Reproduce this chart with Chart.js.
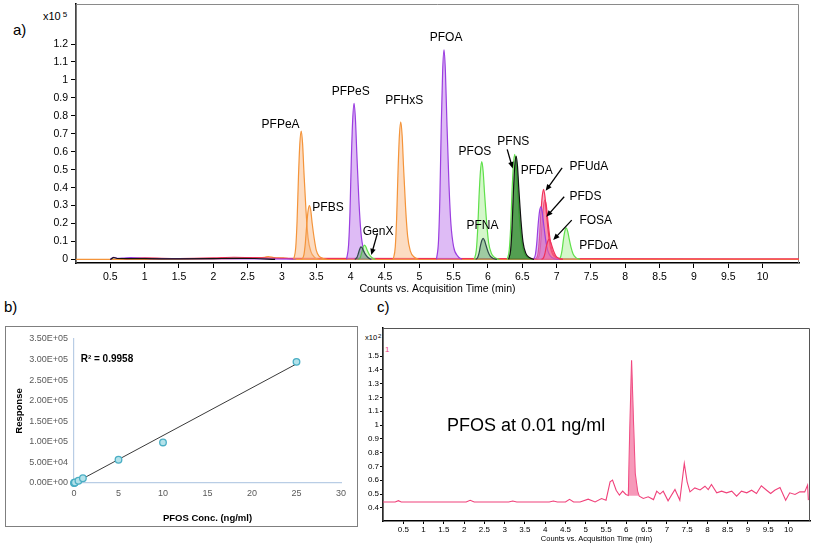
<!DOCTYPE html>
<html lang="en">
<head>
<meta charset="UTF-8" />
<title>PFAS chromatograms</title>
<script src="https://cdn.jsdelivr.net/npm/chart.js"></script>
<style>
    body {
        margin: 0;
        width: 815px;
        height: 548px;
        position: relative;
        overflow: hidden;
        background: #fff;
        font-family: "Liberation Sans", Arial, sans-serif;
        color: #000;
    }
    .abs { position: absolute; }
    .tag { font-size: 15px; }
    #boxB {
        left: 5px;
        top: 326px;
        width: 351px;
        height: 199px;
        border: 1px solid #7f7f7f;
    }
</style>
</head>
<body>
<div class="abs tag" style="left:13px;top:21px">a)</div>
<div class="abs tag" style="left:4px;top:298px">b)</div>
<div class="abs tag" style="left:377px;top:298px">c)</div>
<div class="abs" style="left:43px;top:10px;font-size:11px">x10<span style="font-size:8px;vertical-align:top;margin-left:2px">5</span></div>
<div class="abs" style="left:365px;top:333px;font-size:7.5px;font-family:'Liberation Sans Narrow','Liberation Sans',Arial">x10<span style="font-size:6px;vertical-align:top;margin-left:1px">2</span></div>
<div class="abs" style="left:385px;top:345px;font-size:8px;color:#f0417a">1</div>

<canvas id="chartA" class="abs" style="left:0;top:0" width="815" height="300"></canvas>
<div id="boxB" class="abs"></div>
<canvas id="chartB" class="abs" style="left:6px;top:327px" width="350" height="198"></canvas>
<canvas id="chartC" class="abs" style="left:355px;top:318px" width="460" height="230"></canvas>

<script>
// ---- panel a: overlaid chromatogram (x10^5 counts vs min) ----
const aTimeTicks = [0.5, 1, 1.5, 2, 2.5, 3, 3.5, 4, 4.5, 5, 5.5, 6, 6.5, 7, 7.5, 8, 8.5, 9, 9.5, 10];
const aCountTicks = [0, 0.1, 0.2, 0.3, 0.4, 0.5, 0.6, 0.7, 0.8, 0.9, 1, 1.1, 1.2];

const baseOrangeT = [0, 2.4, 2.6, 2.75, 2.8, 2.88, 2.95, 3.02, 3.1, 3.16, 10.53];
const baseOrangeY = [0, 0.006, 0.01, 0.012, 0.016, 0.01, 0.008, 0.009, 0.004, 0, 0];
const basePinkT = [0.7, 1.0, 1.5, 2.0, 2.3, 2.6, 3.0, 10.53];
const basePinkY = [0.004, 0.008, 0.005, 0.008, 0.012, 0.01, 0.006, 0.003];
const basePurpleT = [0.5, 0.55, 0.6, 0.7, 0.8, 1.0, 1.2, 3.2];
const basePurpleY = [0, 0.012, 0.006, 0.008, 0.01, 0.006, 0.004, 0.002];
const baseBlackT = [0.5, 0.55, 0.6, 1.0, 1.5, 2.0, 2.3, 2.6, 2.9];
const baseBlackY = [0, 0.01, 0.005, 0.004, 0.003, 0.004, 0.006, 0.005, 0];

const pfpeaT = [3.17, 3.20, 3.22, 3.24, 3.26, 3.28, 3.30, 3.32, 3.35, 3.38, 3.42, 3.48, 3.54];
const pfpeaY = [0, 0.065, 0.215, 0.46, 0.645, 0.715, 0.645, 0.485, 0.27, 0.12, 0.045, 0.01, 0];
const pfbsT = [3.29, 3.32, 3.34, 3.36, 3.38, 3.40, 3.42, 3.44, 3.47, 3.50, 3.54, 3.60, 3.66];
const pfbsY = [0, 0.027, 0.09, 0.19, 0.27, 0.30, 0.27, 0.2, 0.115, 0.05, 0.018, 0.005, 0];
const pfpesT = [3.94, 3.97, 3.99, 4.01, 4.03, 4.05, 4.07, 4.09, 4.12, 4.15, 4.19, 4.25, 4.31];
const pfpesY = [0, 0.08, 0.26, 0.56, 0.78, 0.87, 0.78, 0.59, 0.33, 0.15, 0.05, 0.013, 0];
const genxAT = [4.06, 4.09, 4.11, 4.13, 4.15, 4.17, 4.19, 4.22, 4.26, 4.30];
const genxAY = [0, 0.01, 0.03, 0.055, 0.07, 0.063, 0.045, 0.025, 0.008, 0];
const genxBT = [4.11, 4.14, 4.16, 4.18, 4.20, 4.22, 4.24, 4.27, 4.31, 4.36];
const genxBY = [0, 0.01, 0.035, 0.065, 0.08, 0.072, 0.052, 0.028, 0.01, 0];
const pfhxsT = [4.62, 4.65, 4.67, 4.69, 4.71, 4.73, 4.75, 4.77, 4.80, 4.83, 4.87, 4.93, 4.99];
const pfhxsY = [0, 0.07, 0.23, 0.49, 0.69, 0.767, 0.69, 0.52, 0.29, 0.13, 0.046, 0.012, 0];
const pfoaT = [5.25, 5.28, 5.30, 5.32, 5.34, 5.36, 5.38, 5.40, 5.43, 5.46, 5.50, 5.56, 5.62];
const pfoaY = [0, 0.105, 0.35, 0.75, 1.05, 1.167, 1.05, 0.79, 0.44, 0.2, 0.07, 0.018, 0];
const pfosT = [5.80, 5.83, 5.85, 5.87, 5.89, 5.91, 5.93, 5.95, 5.98, 6.01, 6.05, 6.11, 6.17];
const pfosY = [0, 0.05, 0.165, 0.35, 0.49, 0.545, 0.49, 0.37, 0.21, 0.093, 0.033, 0.008, 0];
const pfnaT = [5.82, 5.85, 5.87, 5.89, 5.91, 5.93, 5.95, 5.97, 6.00, 6.03, 6.07, 6.13];
const pfnaY = [0, 0.011, 0.035, 0.075, 0.105, 0.117, 0.105, 0.08, 0.044, 0.02, 0.007, 0];
const pfnsT = [6.28, 6.31, 6.33, 6.35, 6.37, 6.39, 6.41, 6.43, 6.46, 6.49, 6.53, 6.59, 6.65];
const pfnsY = [0, 0.053, 0.175, 0.375, 0.525, 0.585, 0.525, 0.4, 0.22, 0.1, 0.035, 0.009, 0];
const pfdaT = [6.30, 6.33, 6.35, 6.37, 6.39, 6.41, 6.43, 6.45, 6.48, 6.51, 6.55, 6.61, 6.67];
const pfdaY = [0, 0.052, 0.173, 0.37, 0.52, 0.576, 0.52, 0.39, 0.22, 0.098, 0.035, 0.009, 0];
const pfdsT = [6.66, 6.69, 6.71, 6.73, 6.75, 6.77, 6.79, 6.81, 6.84, 6.87, 6.91, 6.97, 7.03];
const pfdsY = [0, 0.026, 0.088, 0.19, 0.265, 0.293, 0.265, 0.2, 0.11, 0.05, 0.018, 0.004, 0];
const pfudaT = [6.70, 6.73, 6.75, 6.77, 6.79, 6.81, 6.83, 6.85, 6.88, 6.91, 6.95, 7.01, 7.07];
const pfudaY = [0, 0.035, 0.117, 0.25, 0.35, 0.39, 0.35, 0.265, 0.148, 0.066, 0.023, 0.006, 0];
const redBT = [6.72, 6.75, 6.77, 6.79, 6.81, 6.83, 6.85, 6.87, 6.90, 6.93, 6.97, 7.03, 7.09];
const redBY = [0, 0.03, 0.1, 0.21, 0.3, 0.33, 0.3, 0.225, 0.125, 0.056, 0.02, 0.005, 0];
const fosaT = [6.78, 6.81, 6.83, 6.85, 6.87, 6.89, 6.91, 6.93, 6.96, 6.99, 7.03, 7.09];
const fosaY = [0, 0.01, 0.034, 0.072, 0.1, 0.113, 0.1, 0.077, 0.043, 0.019, 0.007, 0];
const pfdoaT = [7.03, 7.06, 7.08, 7.10, 7.12, 7.14, 7.16, 7.18, 7.21, 7.24, 7.28, 7.34];
const pfdoaY = [0, 0.016, 0.053, 0.113, 0.158, 0.176, 0.158, 0.12, 0.067, 0.03, 0.01, 0];

// peak names, anchored in data units (min, x10^5)
const peakLabels = [
    { text: "PFPeA", t: 2.98, v: 0.75 },
    { text: "PFBS", t: 3.67, v: 0.289 },
    { text: "PFPeS", t: 4.0, v: 0.934 },
    { text: "GenX", t: 4.40, v: 0.156 },
    { text: "PFHxS", t: 4.78, v: 0.883 },
    { text: "PFOA", t: 5.39, v: 1.235 },
    { text: "PFOS", t: 5.81, v: 0.60 },
    { text: "PFNS", t: 6.37, v: 0.656 },
    { text: "PFDA", t: 6.71, v: 0.492 },
    { text: "PFUdA", t: 7.47, v: 0.514 },
    { text: "PFDS", t: 7.42, v: 0.352 },
    { text: "FOSA", t: 7.57, v: 0.216 },
    { text: "PFNA", t: 5.92, v: 0.188 },
    { text: "PFDoA", t: 7.61, v: 0.078 },
];
const peakArrows = [
    [4.39, 0.145, 4.30, 0.024],
    [6.28, 0.613, 6.36, 0.507],
    [7.08, 0.51, 6.84, 0.382],
    [7.11, 0.349, 6.85, 0.237],
    [7.22, 0.219, 6.95, 0.108],
];

// ---- panel b: calibration ----
const bConc = [0, 0.05, 0.1, 0.5, 1, 5, 10, 25];
const bResp = [0, 500, 1200, 5500, 11500, 56500, 98500, 294500];
const trendConc = [0, 25];
const trendResp = [-800, 289500];

// ---- panel c: PFOS at 0.01 ng/ml (x10^2 counts vs min) ----
const cTimeTicks = [0.5, 1, 1.5, 2, 2.5, 3, 3.5, 4, 4.5, 5, 5.5, 6, 6.5, 7, 7.5, 8, 8.5, 9, 9.5, 10];
const cCountTicks = [0.4, 0.5, 0.6, 0.7, 0.8, 0.9, 1, 1.1, 1.2, 1.3, 1.4, 1.5];
const cT = [0, 0.3, 0.38, 0.45, 0.6, 1.0, 1.5, 2.05, 2.15, 2.25, 2.5, 3.1, 3.2, 3.3, 4.1, 4.2, 4.3, 4.5, 4.6, 4.7,
    4.86, 5.06, 5.23, 5.39, 5.50, 5.60, 5.66, 5.75, 5.83, 5.91, 5.99, 6.05, 6.08, 6.13, 6.18, 6.22, 6.28, 6.32, 6.42, 6.54,
    6.67, 6.75, 6.83, 6.91, 7.03, 7.20, 7.32, 7.43, 7.50, 7.57, 7.69, 7.82, 7.94, 8.02, 8.10, 8.23, 8.35, 8.47, 8.60, 8.72,
    8.84, 8.97, 9.09, 9.21, 9.33, 9.46, 9.56, 9.66, 9.79, 9.93, 10.03, 10.16, 10.28, 10.40, 10.47, 10.49];
const cV = [0.443, 0.443, 0.452, 0.443, 0.443, 0.443, 0.443, 0.443, 0.455, 0.443, 0.443, 0.443, 0.45, 0.443, 0.443, 0.45, 0.443, 0.443, 0.462, 0.443,
    0.443, 0.463, 0.443, 0.468, 0.456, 0.589, 0.601, 0.528, 0.492, 0.521, 0.497, 0.49, 0.9, 1.47, 1.0, 0.65, 0.52, 0.485, 0.468, 0.48,
    0.46, 0.521, 0.50, 0.521, 0.451, 0.533, 0.456, 0.722, 0.589, 0.516, 0.545, 0.53, 0.557, 0.533, 0.57, 0.509, 0.521, 0.509, 0.521, 0.485,
    0.521, 0.509, 0.528, 0.504, 0.56, 0.528, 0.504, 0.528, 0.548, 0.456, 0.509, 0.497, 0.516, 0.516, 0.565, 0.456];
const cPeakT = [6.05, 6.08, 6.13, 6.18, 6.22, 6.28, 6.32];
const cPeakV = [0.49, 0.9, 1.47, 1.0, 0.65, 0.52, 0.485];

const FONT = '"Liberation Sans", Arial, sans-serif';
const NARROW = '"Liberation Sans Narrow", "Liberation Sans", Arial, sans-serif';

function pts(xs, ys) {
    return xs.map((x, i) => ({ x: x, y: ys[i] }));
}

function fixWidth(w) {
    return (s) => {
        s.width = w;
        s.paddingTop = s.paddingBottom = s.paddingLeft = s.paddingRight = 0;
    };
}
function fixHeight(h) {
    return (s) => {
        s.height = h;
        s.paddingTop = s.paddingBottom = s.paddingLeft = s.paddingRight = 0;
    };
}
function setTicks(list) {
    return (s) => {
        s.ticks = list.map((v) => ({ value: v }));
    };
}
const plainLabel = (v) => String(v);

// thin grey frame on top and right of the plot area
function framePlugin(color) {
    return {
        id: "frame",
        beforeDatasetsDraw(chart) {
            const { ctx, chartArea: a } = chart;
            ctx.save();
            ctx.strokeStyle = color;
            ctx.lineWidth = 1;
            ctx.beginPath();
            ctx.moveTo(a.left, a.bottom);
            ctx.lineTo(a.left, a.top + 0.5);
            ctx.lineTo(a.right - 0.5, a.top + 0.5);
            ctx.lineTo(a.right - 0.5, a.bottom);
            ctx.stroke();
            ctx.restore();
        },
    };
}

function drawArrow(ctx, x1, y1, x2, y2) {
    const ang = Math.atan2(y2 - y1, x2 - x1);
    const hl = 7;
    ctx.beginPath();
    ctx.moveTo(x1, y1);
    ctx.lineTo(x2 - Math.cos(ang) * 4, y2 - Math.sin(ang) * 4);
    ctx.stroke();
    ctx.beginPath();
    ctx.moveTo(x2, y2);
    ctx.lineTo(x2 - hl * Math.cos(ang - 0.4), y2 - hl * Math.sin(ang - 0.4));
    ctx.lineTo(x2 - hl * Math.cos(ang + 0.4), y2 - hl * Math.sin(ang + 0.4));
    ctx.closePath();
    ctx.fill();
}

const labelPlugin = {
    id: "peakLabels",
    afterDatasetsDraw(chart) {
        const { ctx, scales: { x, y } } = chart;
        ctx.save();
        ctx.font = "12px " + FONT;
        ctx.fillStyle = "#000";
        ctx.strokeStyle = "#000";
        ctx.lineWidth = 1.3;
        ctx.textAlign = "center";
        ctx.textBaseline = "middle";
        peakLabels.forEach((l) => ctx.fillText(l.text, x.getPixelForValue(l.t), y.getPixelForValue(l.v)));
        peakArrows.forEach((p) =>
            drawArrow(ctx, x.getPixelForValue(p[0]), y.getPixelForValue(p[1]), x.getPixelForValue(p[2]), y.getPixelForValue(p[3]))
        );
        ctx.restore();
    },
};

const ORANGE = { line: "#f4943a", fill: "rgba(248,178,120,0.45)" };
const PURPLE = { line: "#9b3ee0", fill: "rgba(190,120,235,0.5)" };
const GREEN = { line: "#5fe04a", fill: "rgba(170,240,150,0.5)" };
const DKGREEN = { line: "#111", fill: "rgba(40,130,40,0.75)" };
const SLATE = { line: "#2e4a4a", fill: "rgba(60,120,90,0.35)" };
const RED = { line: "#f0325a", fill: "rgba(245,110,150,0.5)" };

function peak(t, y, c, filled) {
    return {
        data: pts(t, y),
        borderColor: c.line,
        backgroundColor: c.fill,
        borderWidth: 1.2,
        pointRadius: 0,
        fill: filled ? "origin" : false,
        cubicInterpolationMode: "monotone",
    };
}

new Chart(document.getElementById("chartA"), {
    type: "line",
    data: {
        datasets: [
            peak(pfnaT, pfnaY, SLATE, true),
            peak(genxAT, genxAY, SLATE, true),
            peak(pfdaT, pfdaY, DKGREEN, true),
            peak(fosaT, fosaY, RED, true),
            peak(pfdsT, pfdsY, PURPLE, true),
            peak(pfudaT, pfudaY, RED, true),
            peak(redBT, redBY, RED, true),
            peak(pfdoaT, pfdoaY, GREEN, true),
            peak(pfnsT, pfnsY, GREEN, true),
            peak(pfosT, pfosY, GREEN, true),
            peak(genxBT, genxBY, GREEN, true),
            peak(pfoaT, pfoaY, PURPLE, true),
            peak(pfpesT, pfpesY, PURPLE, true),
            peak(pfbsT, pfbsY, ORANGE, true),
            peak(pfpeaT, pfpeaY, ORANGE, true),
            peak(pfhxsT, pfhxsY, ORANGE, true),
            peak(baseBlackT, baseBlackY, DKGREEN, false),
            peak(basePurpleT, basePurpleY, PURPLE, false),
            peak(basePinkT, basePinkY, RED, false),
            peak(baseOrangeT, baseOrangeY, ORANGE, false),
        ],
    },
    options: {
        responsive: false,
        animation: false,
        layout: { padding: { left: 0, top: 4, right: 16, bottom: 0 } },
        plugins: { legend: { display: false }, tooltip: { enabled: false } },
        scales: {
            x: {
                type: "linear",
                min: 0,
                max: 10.53,
                afterBuildTicks: setTicks(aTimeTicks),
                afterFit: fixHeight(37),
                ticks: { font: { family: FONT, size: 10.5 }, color: "#000", padding: 3, maxRotation: 0, callback: plainLabel },
                grid: { drawOnChartArea: false, drawTicks: true, tickLength: 5, color: "#000" },
                border: { color: "#000", width: 1.6 },
                title: {
                    display: true,
                    text: "Counts vs. Acquisition Time (min)",
                    font: { family: FONT, size: 10.5 },
                    color: "#000",
                    padding: { top: 0, bottom: 5 },
                },
            },
            y: {
                type: "linear",
                min: -0.02,
                max: 1.423,
                afterBuildTicks: setTicks(aCountTicks),
                afterFit: fixWidth(76),
                ticks: { font: { family: FONT, size: 10.5 }, color: "#000", padding: 3, callback: plainLabel },
                grid: { drawOnChartArea: false, drawTicks: true, tickLength: 5, color: "#000" },
                border: { color: "#000", width: 1.6 },
            },
        },
    },
    plugins: [framePlugin("#8a8a8a"), labelPlugin],
});

// ---- panel b ----
function sci(v) {
    if (v === 0) return "0.00E+00";
    const e = Math.floor(Math.log10(v));
    const m = v / Math.pow(10, e);
    return m.toFixed(2) + "E+" + String(e).padStart(2, "0");
}

const r2Plugin = {
    id: "r2",
    afterDatasetsDraw(chart) {
        const { ctx, scales: { x, y } } = chart;
        ctx.save();
        ctx.font = "bold 10px " + FONT;
        ctx.fillStyle = "#000";
        ctx.textAlign = "left";
        ctx.textBaseline = "middle";
        ctx.fillText("R\u00b2 = 0.9958", x.getPixelForValue(0.75), y.getPixelForValue(300000));
        ctx.restore();
    },
};

const AXIS_B = "#b9cde5";
new Chart(document.getElementById("chartB"), {
    type: "scatter",
    data: {
        datasets: [
            {
                data: pts(bConc, bResp),
                pointRadius: 3.3,
                pointBorderWidth: 1.3,
                borderColor: "#4aaec4",
                backgroundColor: "#b3e2ea",
                clip: false,
            },
            {
                type: "line",
                data: pts(trendConc, trendResp),
                borderColor: "#3a3a3a",
                borderWidth: 1,
                pointRadius: 0,
                fill: false,
            },
        ],
    },
    options: {
        responsive: false,
        animation: false,
        layout: { padding: { left: 0, top: 12, right: 15, bottom: 0 } },
        plugins: { legend: { display: false }, tooltip: { enabled: false } },
        scales: {
            x: {
                type: "linear",
                min: 0,
                max: 30,
                afterFit: fixHeight(42),
                ticks: { stepSize: 5, font: { family: FONT, size: 9 }, color: "#595959", padding: 5, maxRotation: 0 },
                grid: { display: false, drawTicks: false },
                border: { color: AXIS_B, width: 1.2 },
                title: {
                    display: true,
                    text: "PFOS Conc. (ng/ml)",
                    font: { family: FONT, size: 9.5, weight: "bold" },
                    color: "#000",
                    padding: { top: 0, bottom: 1 },
                },
            },
            y: {
                type: "linear",
                min: 0,
                max: 350000,
                afterFit: fixWidth(68),
                ticks: { stepSize: 50000, font: { family: FONT, size: 9 }, color: "#595959", padding: 6, callback: (v) => sci(v) },
                grid: { display: false, drawTicks: false },
                border: { color: AXIS_B, width: 1.2 },
                title: {
                    display: true,
                    text: "Response",
                    font: { family: FONT, size: 9.5, weight: "bold" },
                    color: "#000",
                    padding: { top: 8, bottom: 0 },
                },
            },
        },
    },
    plugins: [r2Plugin],
});

// ---- panel c ----
const noteCPlugin = {
    id: "noteC",
    afterDatasetsDraw(chart) {
        const { ctx, scales: { x, y } } = chart;
        ctx.save();
        ctx.font = "18px " + FONT;
        ctx.fillStyle = "#000";
        ctx.textAlign = "left";
        ctx.textBaseline = "middle";
        ctx.fillText("PFOS at 0.01 ng/ml", x.getPixelForValue(1.58), y.getPixelForValue(0.992));
        ctx.restore();
    },
};

new Chart(document.getElementById("chartC"), {
    type: "line",
    data: {
        datasets: [
            {
                data: pts(cPeakT, cPeakV),
                borderWidth: 0,
                borderColor: "rgba(0,0,0,0)",
                backgroundColor: "rgba(242,110,155,0.7)",
                pointRadius: 0,
                fill: { value: 0.487 },
                tension: 0,
            },
            {
                data: pts(cT, cV),
                borderColor: "#f0417a",
                borderWidth: 1.1,
                pointRadius: 0,
                fill: false,
                tension: 0,
            },
        ],
    },
    options: {
        responsive: false,
        animation: false,
        layout: { padding: { left: 0, top: 10, right: 5, bottom: 0 } },
        plugins: { legend: { display: false }, tooltip: { enabled: false } },
        scales: {
            x: {
                type: "linear",
                min: 0,
                max: 10.53,
                afterBuildTicks: setTicks(cTimeTicks),
                afterFit: fixHeight(27),
                ticks: { font: { family: NARROW, size: 8 }, color: "#000", padding: 1, maxRotation: 0, callback: plainLabel },
                grid: { drawOnChartArea: false, drawTicks: true, tickLength: 3, color: "#000" },
                border: { color: "#000", width: 1.5 },
                title: {
                    display: true,
                    text: "Counts vs. Acquisition Time (min)",
                    font: { family: NARROW, size: 7.5 },
                    color: "#000",
                    padding: { top: 0, bottom: 5 },
                },
            },
            y: {
                type: "linear",
                min: 0.305,
                max: 1.703,
                afterBuildTicks: setTicks(cCountTicks),
                afterFit: fixWidth(28),
                ticks: { font: { family: NARROW, size: 8 }, color: "#000", padding: 1, callback: plainLabel },
                grid: { drawOnChartArea: false, drawTicks: true, tickLength: 3, color: "#000" },
                border: { color: "#000", width: 1.5 },
            },
        },
    },
    plugins: [framePlugin("#555"), noteCPlugin],
});
</script>
</body>
</html>
